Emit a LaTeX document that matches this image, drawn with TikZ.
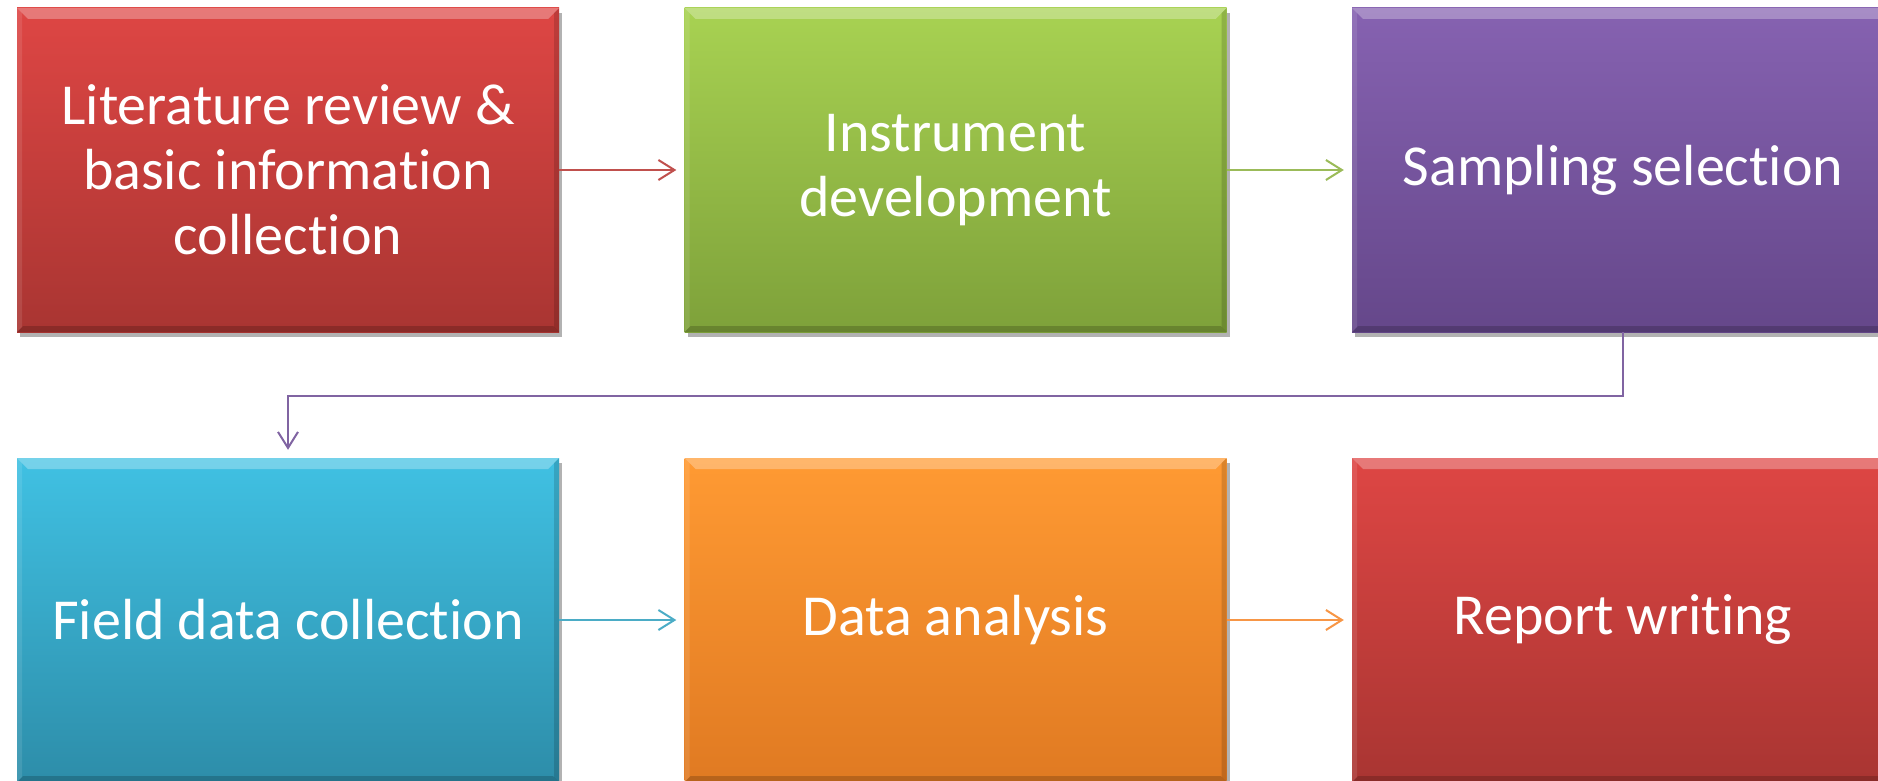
\documentclass[tikz,border=0pt]{standalone}
\usepackage{fontspec}
\setmainfont[Ligatures={NoCommon}]{Carlito}
\usetikzlibrary{arrows.meta,shadows}
\definecolor{redT}{HTML}{DE4644}
\definecolor{redB}{HTML}{A93532}
\definecolor{grnT}{HTML}{A8D252}
\definecolor{grnB}{HTML}{7EA13A}
\definecolor{purT}{HTML}{8662B1}
\definecolor{purB}{HTML}{65478A}
\definecolor{cyaT}{HTML}{40C1E3}
\definecolor{cyaB}{HTML}{2D8DA9}
\definecolor{oraT}{HTML}{FF9A33}
\definecolor{oraB}{HTML}{E07A22}
\definecolor{lnRed}{HTML}{C0504D}
\definecolor{lnGrn}{HTML}{9BBB59}
\definecolor{lnPur}{HTML}{8064A2}
\definecolor{lnCya}{HTML}{4BACC6}
\definecolor{lnOra}{HTML}{F79646}
\begin{document}
\begin{tikzpicture}[x=1pt,y=-1pt,
  bevel/.style={path picture={
    \fill[white,opacity=0.28] (path picture bounding box.north west) -- (path picture bounding box.north east)
      -- ([xshift=-11pt,yshift=-11pt]path picture bounding box.north east) -- ([xshift=11pt,yshift=-11pt]path picture bounding box.north west) -- cycle;
    \fill[white,opacity=0.10] (path picture bounding box.north west) -- ([xshift=5pt,yshift=-5pt]path picture bounding box.north west)
      -- ([xshift=5pt,yshift=5pt]path picture bounding box.south west) -- (path picture bounding box.south west) -- cycle;
    \fill[black,opacity=0.14] (path picture bounding box.north east) -- ([xshift=-5pt,yshift=-5pt]path picture bounding box.north east)
      -- ([xshift=-5pt,yshift=5pt]path picture bounding box.south east) -- (path picture bounding box.south east) -- cycle;
    \fill[black,opacity=0.18] (path picture bounding box.south west) -- (path picture bounding box.south east)
      -- ([xshift=-6pt,yshift=6pt]path picture bounding box.south east) -- ([xshift=6pt,yshift=6pt]path picture bounding box.south west) -- cycle;
  }},
  stepbox/.style 2 args={rectangle, minimum width=542pt, minimum height=324pt, inner sep=0pt,
    text=white, align=center, font=\fontsize{58}{65}\selectfont,
    top color=#1, bottom color=#2,
    drop shadow={shadow xshift=3pt,shadow yshift=-5pt,opacity=0.3,fill=black}, bevel},
  conn/.style={line width=2pt, -{Straight Barb[length=16pt,width=20pt,line width=2pt]}, shorten >=8pt}]
\useasboundingbox (0,0) rectangle (1878,781);
\clip (0,0) rectangle (1878,781);
\node[stepbox={redT}{redB}] (b1) at (288,170) {Literature review \&\\basic information\\collection};
\node[stepbox={grnT}{grnB}] (b2) at (955.5,170) {Instrument\\development};
\node[stepbox={purT}{purB}] (b3) at (1623,170) {Sampling selection};
\node[stepbox={cyaT}{cyaB}] (b4) at (288,620) {Field data collection};
\node[stepbox={oraT}{oraB}] (b5) at (955.5,620) {Data analysis};
\node[stepbox={redT}{redB}] (b6) at (1623,620) {Report writing};
\draw[conn, draw=lnRed] (b1) -- (b2);
\draw[conn, draw=lnGrn] (b2) -- (b3);
\draw[conn, draw=lnPur] (b3.south) -- ++(0,64) -| (b4.north);
\draw[conn, draw=lnCya] (b4) -- (b5);
\draw[conn, draw=lnOra] (b5) -- (b6);
\end{tikzpicture}
\end{document}
